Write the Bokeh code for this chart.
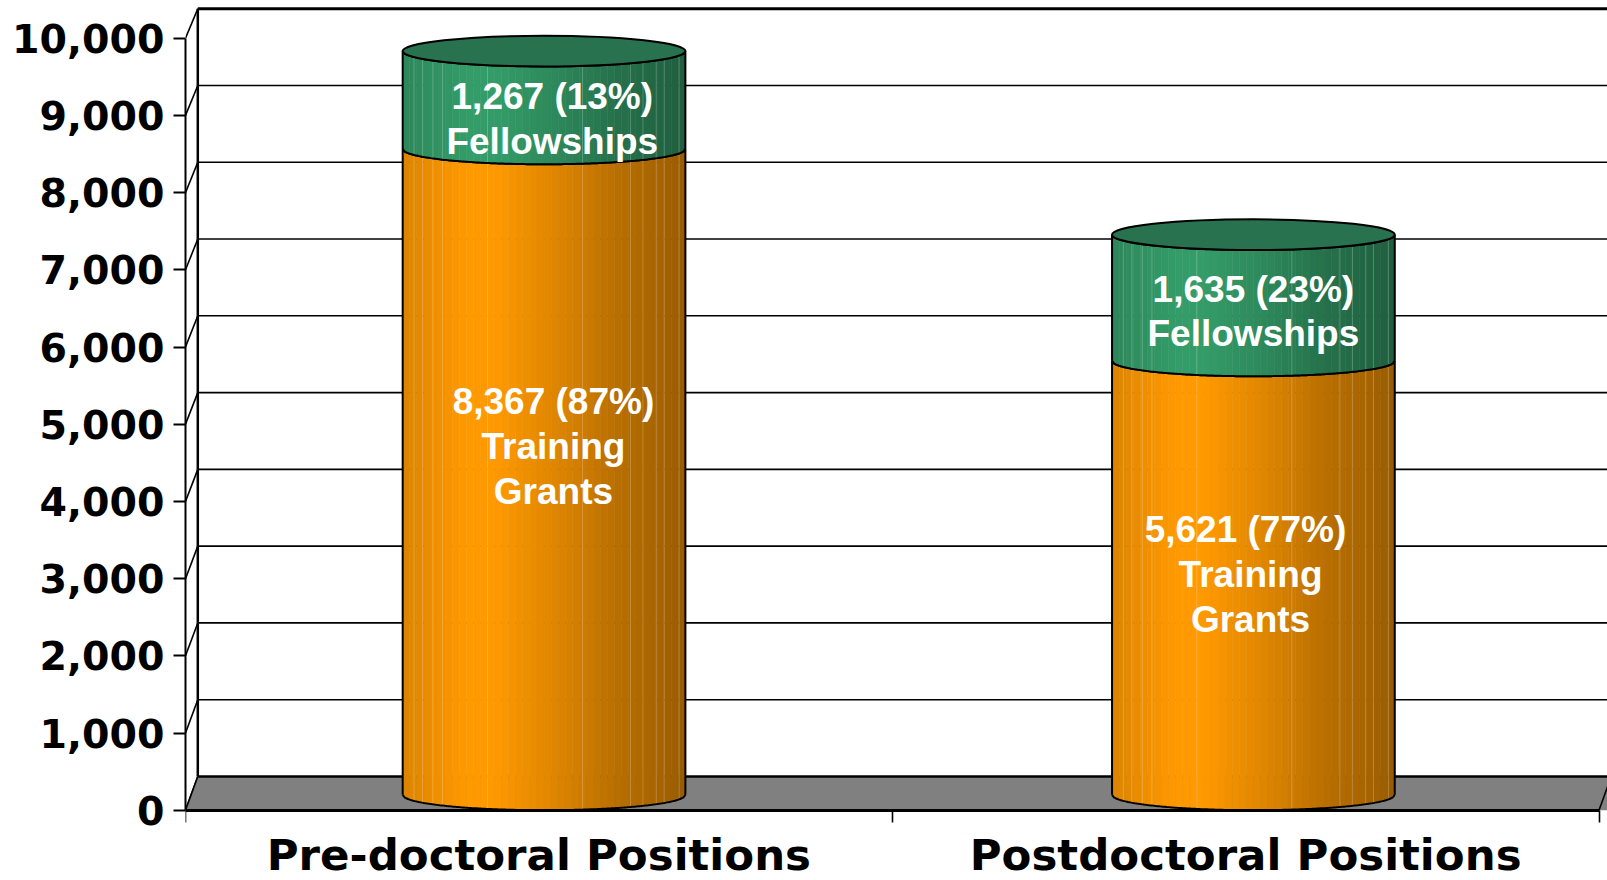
import numpy as np
from bokeh.plotting import figure
from bokeh.models import ColumnDataSource, LinearAxis, FixedTicker, Range1d
from bokeh.core.properties import value
from bokeh.embed import file_html
from bokeh.resources import INLINE

# ---- data ----
categories = ["Pre-doctoral Positions", "Postdoctoral Positions"]
training_grants = [8367, 5621]
fellowships = [1267, 1635]
y_ticks = [0, 1000, 2000, 3000, 4000, 5000, 6000, 7000, 8000, 9000, 10000]
y_tick_labels = ["0", "1,000", "2,000", "3,000", "4,000", "5,000", "6,000", "7,000", "8,000", "9,000", "10,000"]

# annotation text, one entry per line: text, x, y
annotation_text = ["1,267 (13%)", "Fellowships", "8,367 (87%)", "Training", "Grants",
                   "1,635 (23%)", "Fellowships", "5,621  (77%)", "Training", "Grants"]
annotation_x = [0.519, 0.519, 0.5206, 0.5206, 0.5206, 1.511, 1.511, 1.507, 1.507, 1.507]
annotation_y = [9243, 8659, 5299, 4714, 4130, 6746, 6175, 3639, 3054, 2470]

# ---- 3-D look ----
DX = 0.0174      # depth offset of the wall, x units
DY = 437         # depth offset of the wall, value units
WALL_SCALE = 0.9945
BAR_SCALE = 1.0
BAR_Y0 = 199     # half height of the ellipse, value units
BAR_HALF = 0.2
N_STRIPS = 40
FONT = "DejaVu Sans"

W, H = 1607, 880
p = figure(width=W, height=H, output_backend="svg", toolbar_location=None,
           x_range=Range1d(0, 2 * 1422 / 1413.5),
           y_range=Range1d(-(880 - 809.7) / 0.0772, 809.7 / 0.0772),
           min_border_left=185, min_border_right=0, min_border_top=0, min_border_bottom=0,
           x_axis_type=None, y_axis_type=None, outline_line_color=None,
           background_fill_color="white", border_fill_color="white")
p.grid.visible = False

def wall(v):
    return DY + v * WALL_SCALE

# walls and grid lines
wall_vals = y_ticks[1:]
p.segment(x0=[DX] * len(wall_vals), x1=[2.2] * len(wall_vals),
          y0=[wall(v) for v in wall_vals], y1=[wall(v) for v in wall_vals],
          line_color="#000000", line_width=1.6)
p.segment(x0=[DX], x1=[2.2], y0=[wall(10000)], y1=[wall(10000)],
          line_color="#000000", line_width=3)
p.segment(x0=[DX], x1=[DX], y0=[wall(0)], y1=[wall(10000)], line_color="#000000", line_width=2.5)
# diagonal ticks from the front axis to the wall
p.segment(x0=[0] * len(y_ticks), x1=[DX] * len(y_ticks), y0=y_ticks,
          y1=[wall(v) for v in y_ticks], line_color="#000000", line_width=1.6)

# floor
p.patch(x=[0, 2, 2 + DX, 2.2, 2.2, DX], y=[0, 0, 0, 0, wall(0), wall(0)],
        fill_color="#808080", line_color=None)
p.segment(x0=[DX], x1=[2.2], y0=[wall(0)], y1=[wall(0)], line_color="#000000", line_width=2.5)
p.segment(x0=[0, 2], x1=[DX, 2 + DX], y0=[0, 0], y1=[wall(0), wall(0)], line_color="#000000", line_width=1.6)

def shade(rgb, f):
    s = np.interp(f, [0, 0.12, 0.22, 0.33, 0.55, 0.75, 0.9, 1.0],
                  [0.86, 0.94, 1.0, 1.0, 0.87, 0.73, 0.66, 0.6])
    return "#%02x%02x%02x" % tuple(int(c * s) for c in rgb)

def low(xc, yc, f):
    u = 2 * np.asarray(f) - 1
    return xc + u * BAR_HALF, yc - BAR_Y0 * np.sqrt(np.clip(1 - u * u, 0, 1))

def draw_segment(xc, v0, v1, rgb):
    y0 = BAR_Y0 + v0 * BAR_SCALE
    y1 = BAR_Y0 + v1 * BAR_SCALE
    edges = np.linspace(0, 1, N_STRIPS + 1)
    xs, ys, colors = [], [], []
    for a, b in zip(edges[:-1], edges[1:]):
        xa, ya0 = low(xc, y0, a)
        xb, yb0 = low(xc, y0, b)
        _, ya1 = low(xc, y1, a)
        _, yb1 = low(xc, y1, b)
        xs.append([xa, xb, xb, xa])
        ys.append([ya0, yb0, yb1, ya1])
        colors.append(shade(rgb, (a + b) / 2))
    src = ColumnDataSource(dict(xs=xs, ys=ys, c=colors))
    p.patches("xs", "ys", source=src, fill_color="c", line_color="c", line_width=0.6)
    # pale seams between facets
    for f in [0.04, 0.07, 0.107, 0.141, 0.30, 0.636, 0.806, 0.85, 0.897, 0.925, 0.978]:
        xf, yf0 = low(xc, y0, f)
        _, yf1 = low(xc, y1, f)
        p.line([xf, xf], [yf0, yf1], line_color="#ffffff", line_alpha=0.22, line_width=1)
    # outline: both sides and lower arcs
    fine = np.linspace(0, 1, 161)
    xl, yl = low(xc, y0, fine)
    xu, yu = low(xc, y1, fine)
    p.line(xl, yl, line_color="#000000", line_width=2)
    p.line(xu, yu, line_color="#000000", line_width=2)
    p.line([xc - BAR_HALF] * 2, [y0, y1], line_color="#000000", line_width=2)
    p.line([xc + BAR_HALF] * 2, [y0, y1], line_color="#000000", line_width=2)

ORANGE = (255, 153, 0)
GREEN = (52, 156, 104)
centers = [0.5073, 1.5110]
for xc, tg, fe in zip(centers, training_grants, fellowships):
    draw_segment(xc, 0, tg, ORANGE)
    draw_segment(xc, tg, tg + fe, GREEN)
    yt = BAR_Y0 + (tg + fe) * BAR_SCALE
    p.ellipse(x=[xc], y=[yt], width=[2 * BAR_HALF], height=[2 * BAR_Y0], fill_color="#28724f",
              line_color="#000000", line_width=2)

# labels inside the bars
p.text(x=annotation_x, y=annotation_y, text=annotation_text, text_color="#ffffff",
       text_font=value("Liberation Sans"), text_font_style="bold", text_font_size="37px",
       text_align="center", text_baseline="middle")

# axes
yax = LinearAxis(ticker=FixedTicker(ticks=y_ticks),
                 major_label_overrides={t: s for t, s in zip(y_ticks, y_tick_labels)},
                 bounds=(0, 10000), axis_line_color="#000000", axis_line_width=2,
                 major_tick_line_color="#000000", major_tick_line_width=2,
                 major_tick_in=0, major_tick_out=12, minor_tick_line_color=None,
                 major_label_standoff=9, major_label_text_color="#000000",
                 major_label_text_font=FONT, major_label_text_font_style="bold",
                 major_label_text_font_size="39.5px")
p.add_layout(yax, "left")

xax = LinearAxis(ticker=FixedTicker(ticks=[0.5, 1.5], minor_ticks=[0, 1, 2]),
                 major_label_overrides={0.5: categories[0], 1.5: categories[1]},
                 bounds=(0, 2), fixed_location=0, axis_line_color="#000000", axis_line_width=3,
                 major_tick_line_color=None, major_tick_in=0, major_tick_out=0,
                 minor_tick_line_color="#000000", minor_tick_line_width=1.6,
                 minor_tick_in=0, minor_tick_out=12,
                 major_label_standoff=8, major_label_text_color="#000000",
                 major_label_text_font=FONT, major_label_text_font_style="bold",
                 major_label_text_font_size="43.5px")
p.add_layout(xax, "below")

open("out.html", "w").write(file_html(p, INLINE))
